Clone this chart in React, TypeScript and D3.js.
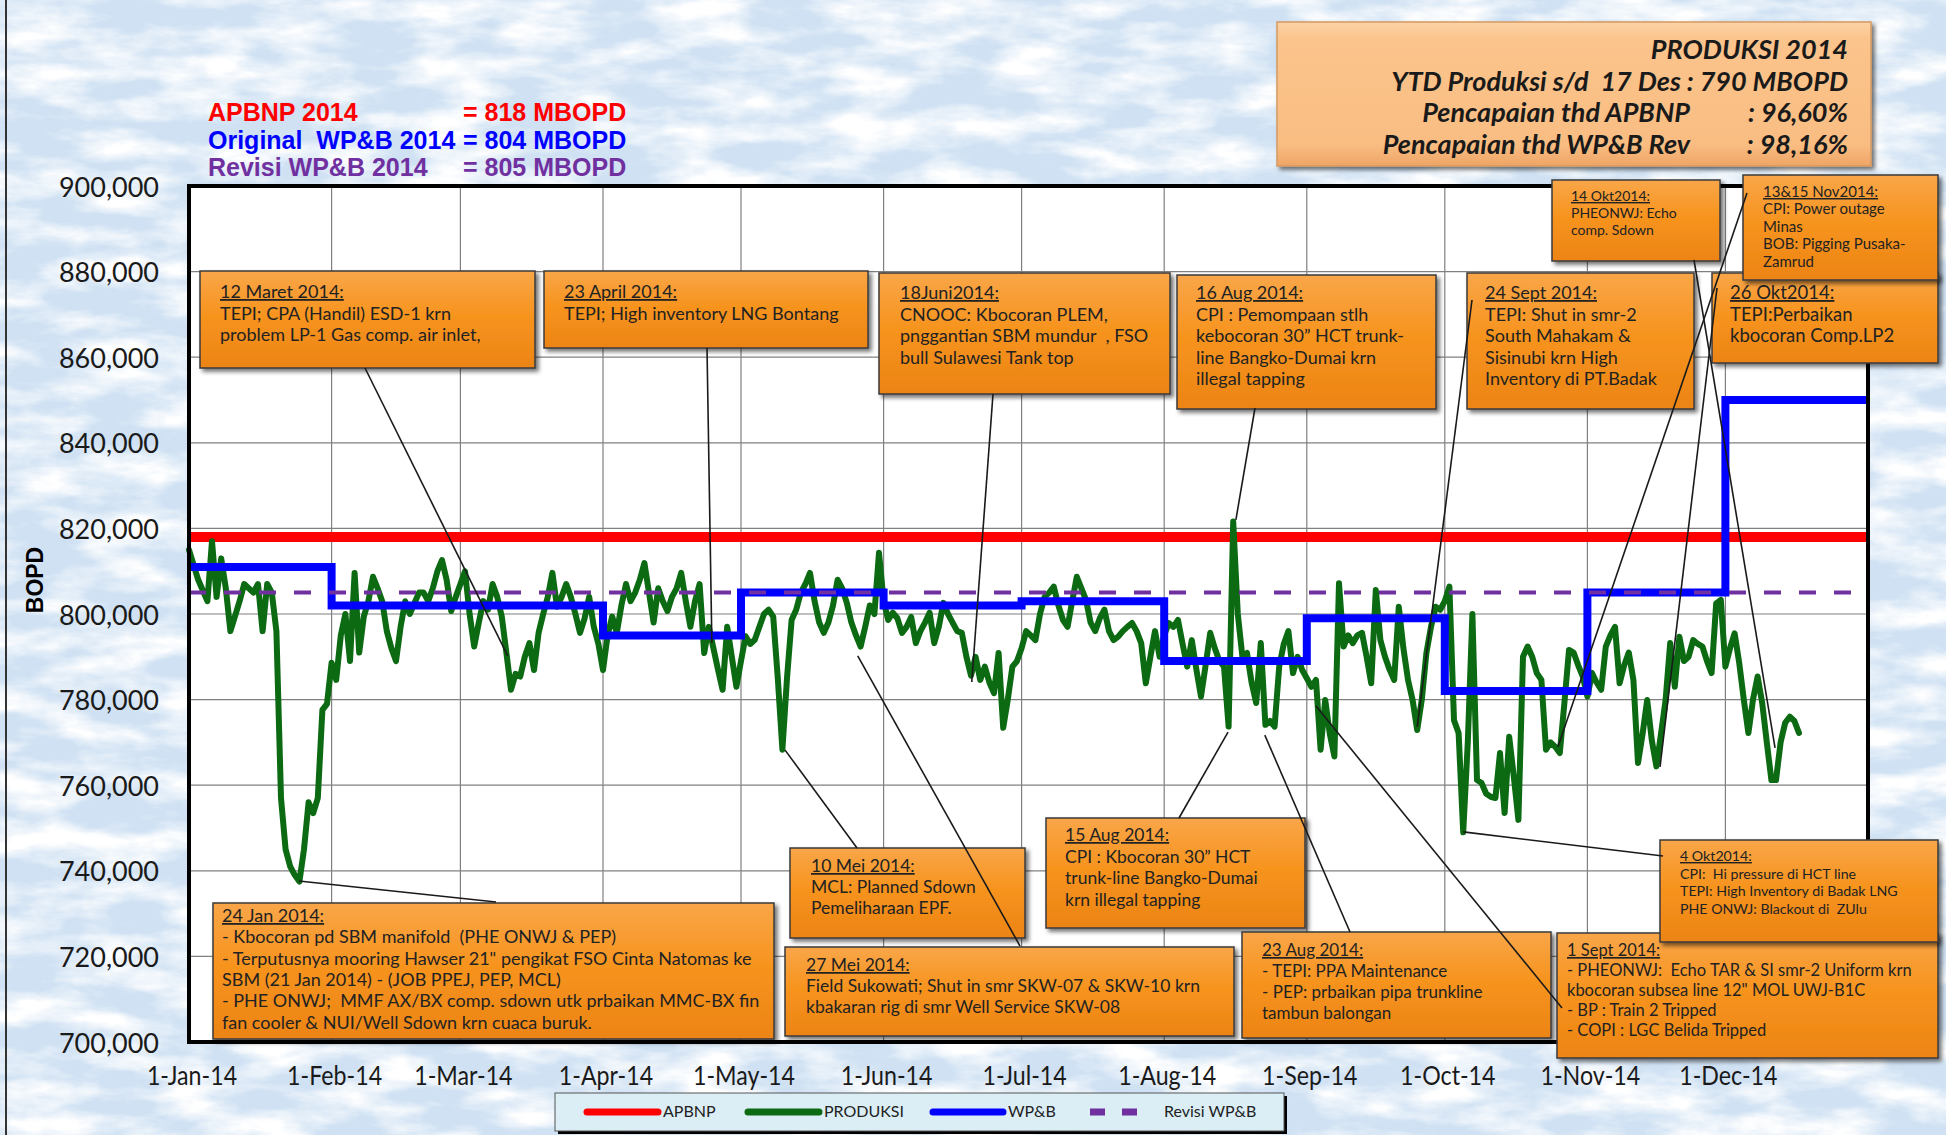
import React from "react";
import * as d3 from "d3";

const W = 1946;
const H = 1135;
const PL = 189, PR = 1868, PT = 186, PB = 1042;

const START = new Date(2014, 0, 1);
const END = new Date(2015, 0, 1);

const yTickValues = [700000, 720000, 740000, 760000, 780000, 800000, 820000, 840000, 860000, 880000, 900000];
const xTickMonths = [0, 1, 2, 3, 4, 5, 6, 7, 8, 9, 10, 11];

const apbnpValue = 818000;
const revisiValue = 805000;

const wpbMonth = [0, 1, 3, 4, 5, 6, 7, 8, 9, 10, 11];
const wpbValue = [811000, 802000, 795000, 805000, 802000, 803000, 789000, 799000, 782000, 805000, 850000];

// PRODUKSI: day offset from 1-Jan-14, value in thousand BOPD
const prodDay = [
  0, 2, 4, 5, 6, 7, 8, 9, 11, 12, 14, 15, 16, 17, 18, 19, 20, 21, 22, 23, 24, 25, 26, 27, 28, 29, 30, 31, 32, 33, 34, 35, 36, 37, 38, 39,
  40, 41, 42, 43, 44, 45, 46, 47, 48, 49, 50, 51, 52, 53, 54, 55, 56, 57, 58, 59, 60, 61, 62, 63, 64, 65, 66, 67, 68, 69, 70, 71, 72, 73, 74, 75, 76, 77, 78, 79,
  80, 81, 82, 83, 84, 85, 86, 87, 88, 89, 90, 91, 92, 93, 94, 95, 96, 97, 98, 99, 100, 101, 102, 103, 104, 105, 106, 107, 108, 109, 110, 111, 112, 113, 114, 115, 116, 117, 118, 119,
  120, 121, 122, 123, 124, 125, 126, 127, 128, 129, 130, 131, 132, 133, 134, 135, 136, 137, 138, 139, 140, 141, 142, 143, 144, 145, 146, 147, 148, 149, 150, 151, 152, 153, 154, 155, 156, 157, 158, 159,
  160, 161, 162, 163, 164, 165, 166, 167, 168, 169, 170, 171, 172, 173, 174, 175, 176, 177, 178, 179, 180, 181, 182, 183, 184, 185, 186, 187, 188, 189, 190, 191, 192, 193, 194, 195, 196, 197, 198, 199,
  200, 201, 202, 203, 204, 205, 206, 207, 208, 209, 210, 211, 212, 213, 214, 215, 216, 217, 218, 219, 220, 221, 222, 223, 224, 225, 226, 227, 228, 229, 230, 231, 232, 233, 234, 235, 236, 237, 238, 239,
  240, 241, 242, 243, 244, 245, 246, 247, 248, 249, 250, 251, 252, 253, 254, 255, 256, 257, 258, 259, 260, 261, 262, 263, 264, 265, 266, 267, 268, 269, 270, 271, 272, 273, 274, 275, 276, 277, 278, 279,
  280, 281, 282, 283, 284, 285, 286, 287, 288, 289, 290, 291, 292, 293, 294, 295, 296, 297, 298, 299, 300, 301, 302, 303, 304, 305, 306, 307, 308, 309, 310, 311, 312, 313, 314, 315, 316, 317, 318, 319,
  320, 321, 322, 323, 324, 325, 326, 327, 328, 329, 330, 331, 332, 333, 334, 335, 336, 337, 338, 339, 340, 341, 342, 343, 344, 345, 346, 347, 348, 349, 350,
];
const prodK = [
  815, 808, 803, 817, 804, 813, 806, 796, 803, 807, 805, 807, 796, 807, 805, 796, 757, 745, 741, 739, 737.5, 745, 756, 753.5, 757, 777.6, 779, 788.6, 784.6, 795, 800, 789, 809.6, 791, 799.4, 803,
  808.7, 806, 803, 796, 792, 789, 797, 803, 800, 802.5, 805, 805, 803, 806, 810, 812.6, 808, 800.7, 804, 807, 810, 800, 792.4, 798, 803, 801, 807, 804, 799.4, 790.9, 782.3, 786, 785.4, 790, 793.2, 786.9, 795.6, 800, 804, 809.6,
  801.7, 804, 807, 804, 800, 795.6, 799, 804, 797, 793, 786.9, 795, 799.4, 795.6, 802, 807, 803, 805, 808, 811.9, 805, 798, 806, 803, 800.7, 804, 806, 809.6, 803, 797, 803, 807, 790.9, 797, 792, 787, 782.3, 797, 790, 783,
  789, 794.8, 793, 794, 797, 800, 801, 799.4, 785, 768.3, 785, 798.6, 801, 805, 807, 809.6, 803, 798, 795.6, 798, 802, 808, 806, 802.6, 798, 795, 792.4, 797, 802, 800, 814.3, 803, 798.6, 800.3, 799, 795.6, 797, 799.3, 793.2, 796,
  798, 800.3, 793.2, 797, 802.6, 800, 798, 796, 795.6, 790, 785.6, 790, 784.6, 787.7, 784, 781.5, 790.9, 773.4, 780, 787.7, 789, 792, 796, 795, 793.9, 800, 804, 805, 806.4, 802, 798.6, 797, 803, 808.7, 806, 803.3, 798, 796, 799, 801,
  796, 793.9, 794.7, 796, 797, 797.9, 796, 793.2, 783.8, 790, 796, 790, 795, 797.9, 797, 798.6, 793, 787.7, 793.9, 787, 780.7, 788, 795.6, 792, 789, 787.7, 773.7, 821.6, 800, 790, 790.9, 784, 779.2, 793.2, 774.1, 775, 773.7, 787.7, 793, 796,
  786.2, 790, 786.9, 785, 783, 784.6, 768.3, 779.9, 772, 766.7, 807.2, 792.4, 795, 793.2, 795, 795.6, 790, 783.8, 805.6, 793.9, 790, 787, 784.6, 801.7, 792, 784.6, 779.9, 772.9, 780, 790.9, 797, 801.7, 801, 803, 806.4, 775.2, 772.2, 749, 770, 800,
  761.2, 760.5, 758, 757.3, 757, 767.5, 753.5, 771.3, 762, 751.9, 790, 792.4, 790, 786.2, 784.6, 768.3, 770, 769, 767.5, 779.2, 791.6, 791, 788, 785.4, 780.7, 786.2, 784, 782.3, 792.4, 795, 797, 783.8, 788, 791, 784.6, 765.2, 772, 779.9, 770.5, 764.4,
  772, 779.9, 793.2, 783, 794.7, 789, 790, 793.9, 793, 792.4, 789, 786.2, 802.5, 803.3, 787.7, 792, 795.5, 788.6, 780, 772.2, 780, 785.4, 779.2, 770, 761.2, 761.2, 770, 774.6, 776, 775, 772.2,
];

const legendTop = [
  { label: "APBNP 2014", value: "= 818 MBOPD", color: "#ff0000" },
  { label: "Original  WP&B 2014", value: "= 804 MBOPD", color: "#0000ff" },
  { label: "Revisi WP&B 2014", value: "= 805 MBOPD", color: "#7030a0" },
];

const summaryRows = [
  { label: "PRODUKSI 2014", value: "" },
  { label: "YTD Produksi s/d  17 Des : 790 MBOPD", value: "" },
  { label: "Pencapaian thd APBNP", value: ": 96,60%" },
  { label: "Pencapaian thd WP&B Rev", value: ": 98,16%" },
];

// annotation boxes (layout)
const boxes = [
  { x: 200, y: 271, w: 335, h: 97, fs: 18, lh: 21.5, tx: 220, ty: 298, head: "12 Maret 2014:", lines: ["TEPI; CPA (Handil) ESD-1 krn", "problem LP-1 Gas comp. air inlet,"] },
  { x: 544, y: 271, w: 324, h: 77, fs: 18, lh: 21.5, tx: 564, ty: 298, head: "23 April 2014:", lines: ["TEPI; High inventory LNG Bontang"] },
  { x: 879, y: 273, w: 291, h: 121, fs: 18, lh: 21.5, tx: 900, ty: 299, head: "18Juni2014:", lines: ["CNOOC: Kbocoran PLEM,", "pnggantian SBM mundur  , FSO", "bull Sulawesi Tank top"] },
  { x: 1177, y: 275, w: 259, h: 134, fs: 18, lh: 21.5, tx: 1196, ty: 299, head: "16 Aug 2014:", lines: ["CPI : Pemompaan stlh", "kebocoran 30\u201d HCT trunk-", "line Bangko-Dumai krn", "illegal tapping"] },
  { x: 1467, y: 273, w: 227, h: 136, fs: 18, lh: 21.5, tx: 1485, ty: 299, head: "24 Sept 2014:", lines: ["TEPI: Shut in smr-2", "South Mahakam &", "Sisinubi krn High", "Inventory di PT.Badak"] },
  { x: 1552, y: 180, w: 168, h: 81, fs: 14, lh: 17, tx: 1571, ty: 201, head: "14 Okt2014:", lines: ["PHEONWJ: Echo", "comp. Sdown"] },
  { x: 1712, y: 273, w: 226, h: 90, fs: 18.5, lh: 21.5, tx: 1730, ty: 299, head: "26 Okt2014:", lines: ["TEPI:Perbaikan", "kbocoran Comp.LP2"] },
  { x: 1743, y: 175, w: 195, h: 105, fs: 15, lh: 17.4, tx: 1763, ty: 197, head: "13&15 Nov2014:", lines: ["CPI: Power outage", "Minas", "BOB: Pigging Pusaka-", "Zamrud"] },
  { x: 213, y: 903, w: 561, h: 136, fs: 18, lh: 21.3, tx: 222, ty: 922, head: "24 Jan 2014:", lines: ["- Kbocoran pd SBM manifold  (PHE ONWJ & PEP)", "- Terputusnya mooring Hawser 21\" pengikat FSO Cinta Natomas ke", "SBM (21 Jan 2014) - (JOB PPEJ, PEP, MCL)", "- PHE ONWJ;  MMF AX/BX comp. sdown utk prbaikan MMC-BX fin", "fan cooler & NUI/Well Sdown krn cuaca buruk."] },
  { x: 790, y: 848, w: 235, h: 90, fs: 17.5, lh: 21, tx: 811, ty: 872, head: "10 Mei 2014:", lines: ["MCL: Planned Sdown", "Pemeliharaan EPF."] },
  { x: 785, y: 947, w: 449, h: 89, fs: 17.5, lh: 21, tx: 806, ty: 971, head: "27 Mei 2014:", lines: ["Field Sukowati; Shut in smr SKW-07 & SKW-10 krn", "kbakaran rig di smr Well Service SKW-08"] },
  { x: 1046, y: 818, w: 259, h: 110, fs: 17.5, lh: 21.5, tx: 1065, ty: 841, head: "15 Aug 2014:", lines: ["CPI : Kbocoran 30\u201d HCT", "trunk-line Bangko-Dumai", "krn illegal tapping"] },
  { x: 1242, y: 932, w: 309, h: 106, fs: 17, lh: 21, tx: 1262, ty: 956, head: "23 Aug 2014:", lines: ["- TEPI: PPA Maintenance", "- PEP: prbaikan pipa trunkline", "tambun balongan"] },
  { x: 1557, y: 933, w: 381, h: 125, fs: 16.5, lh: 20, tx: 1567, ty: 956, head: "1 Sept 2014:", lines: ["- PHEONWJ:  Echo TAR & SI smr-2 Uniform krn", "kbocoran subsea line 12\" MOL UWJ-B1C", "- BP : Train 2 Tripped", "- COPI : LGC Belida Tripped"] },
  { x: 1660, y: 840, w: 278, h: 102, fs: 14.2, lh: 17.5, tx: 1680, ty: 861, head: "4 Okt2014:", lines: ["CPI:  Hi pressure di HCT line", "TEPI: High Inventory di Badak LNG", "PHE ONWJ: Blackout di  ZUlu"] },
];

// leader lines: box end (px) -> data target [day, value]
const links = [
  { from: [496, 902], day: 23.9, value: 737600 },
  { from: [365, 368], day: 69.3, value: 790200 },
  { from: [707, 348], day: 113.7, value: 793200 },
  { from: [857, 848], day: 129.6, value: 768200 },
  { from: [1020, 946], day: 145.4, value: 790200 },
  { from: [993, 394], day: 170.2, value: 784100 },
  { from: [1179, 818], day: 225.9, value: 772400 },
  { from: [1255, 408], day: 227.6, value: 822000 },
  { from: [1350, 932], day: 233.9, value: 771700 },
  { from: [1562, 1008], day: 245, value: 778500 },
  { from: [1472, 300], day: 267, value: 773600 },
  { from: [1663, 856], day: 277, value: 749100 },
  { from: [1694, 260], day: 344.8, value: 768700 },
  { from: [1747, 193], day: 297.6, value: 768900 },
  { from: [1717, 288], day: 319.8, value: 764300 },
];

const legendBottom = [
  { label: "APBNP", color: "#ff0000", dash: "", x1: 587, x2: 658, tx: 663 },
  { label: "PRODUKSI", color: "#0b6a12", dash: "", x1: 748, x2: 819, tx: 824 },
  { label: "WP&B", color: "#0000ff", dash: "", x1: 933, x2: 1003, tx: 1008 },
  { label: "Revisi WP&B", color: "#7030a0", dash: "15 17", x1: 1090, x2: 1139, tx: 1164 },
];

export default function App() {
  const x = d3.scaleTime().domain([START, END]).range([PL, PR]);
  const y = d3.scaleLinear().domain([700000, 900000]).range([PB, PT]);
  const fmt = d3.format(",");
  const xfmt = d3.timeFormat("%-d-%b-%y");

  const prodPts: [Date, number][] = prodDay.map((d, i) => [d3.timeDay.offset(START, d), prodK[i] * 1000]);
  const lin = d3.line<[Date, number]>().x((d) => x(d[0])).y((d) => y(d[1]));
  const prodPath = lin(prodPts) || "";

  const wpbPts: [Date, number][] = wpbMonth.map((m, i) => [new Date(2014, m, 1), wpbValue[i]]);
  wpbPts.push([END, wpbValue[wpbValue.length - 1]]);
  const stepLine = d3.line<[Date, number]>().x((d) => x(d[0])).y((d) => y(d[1])).curve(d3.curveStepAfter);
  const wpbPath = stepLine(wpbPts) || "";

  const xTicks = xTickMonths.map((m) => new Date(2014, m, 1));
  const pre = { whiteSpace: "pre" as const };

  return (
    <svg width={W} height={H} style={{ position: "absolute", left: 0, top: 0, display: "block" }} xmlns="http://www.w3.org/2000/svg">
      <defs>
        <filter id="tex" x="0" y="0" width={W} height={H} filterUnits="userSpaceOnUse">
          <feTurbulence type="fractalNoise" baseFrequency="0.012 0.035" numOctaves="5" seed="23" result="n" />
          <feColorMatrix in="n" type="matrix" values="0 0 0 0 1  0 0 0 0 1  0 0 0 0 1  2.6 0 0 0 -0.95" />
        </filter>
        <filter id="shadow" x="-10%" y="-10%" width="130%" height="140%">
          <feDropShadow dx="3" dy="3" stdDeviation="2" floodColor="#000" floodOpacity="0.55" />
        </filter>
        <linearGradient id="boxGrad" x1="0" y1="0" x2="0" y2="1">
          <stop offset="0" stopColor="#f9a649" />
          <stop offset="0.45" stopColor="#f7941f" />
          <stop offset="1" stopColor="#ec8414" />
        </linearGradient>
        <linearGradient id="sumGrad" x1="0" y1="0" x2="0" y2="1">
          <stop offset="0" stopColor="#fcd3a6" />
          <stop offset="0.12" stopColor="#fbc48c" />
          <stop offset="0.85" stopColor="#f9bd82" />
          <stop offset="1" stopColor="#eea565" />
        </linearGradient>
      </defs>

      {/* background */}
      <rect x={0} y={0} width={W} height={H} fill="#cfe1f3" />
      <rect x={0} y={0} width={W} height={H} filter="url(#tex)" />
      <line x1={6} y1={0} x2={6} y2={H} stroke="#333" strokeWidth={2} />

      {/* top-left legend text */}
      {legendTop.map((d, i) => (
        <g key={i} fontFamily="Liberation Sans, Arial, sans-serif" fontWeight="bold" fontSize={25} fill={d.color}>
          <text x={208} y={121 + i * 27.5} xmlSpace="preserve" style={pre}>{d.label}</text>
          <text x={463} y={121 + i * 27.5}>{d.value}</text>
        </g>
      ))}

      {/* summary box */}
      <rect x={1277} y={22} width={594} height={144} fill="url(#sumGrad)" stroke="#d59a62" strokeWidth={1.5} filter="url(#shadow)" />
      <g fontFamily="Lato, sans-serif" fontWeight="bold" fontStyle="italic" fontSize={27} fill="#1a1a1a">
        {summaryRows.map((r, i) =>
          r.value ? (
            <g key={i}>
              <text x={1690} y={59 + i * 31.5} textAnchor="end" xmlSpace="preserve" style={pre}>{r.label}</text>
              <text x={1848} y={59 + i * 31.5} textAnchor="end">{r.value}</text>
            </g>
          ) : (
            <text key={i} x={1848} y={59 + i * 31.5} textAnchor="end" xmlSpace="preserve" style={pre}>{r.label}</text>
          )
        )}
      </g>

      {/* plot area */}
      <rect x={PL} y={PT} width={PR - PL} height={PB - PT} fill="#ffffff" />
      {yTickValues.slice(1, -1).map((v) => (
        <line key={v} x1={PL} x2={PR} y1={y(v)} y2={y(v)} stroke="#808080" strokeWidth={1.2} />
      ))}
      {xTicks.slice(1).map((d, i) => (
        <line key={i} x1={x(d)} x2={x(d)} y1={PT} y2={PB} stroke="#808080" strokeWidth={1.2} />
      ))}

      {/* series */}
      <line x1={PL} x2={PR} y1={y(apbnpValue)} y2={y(apbnpValue)} stroke="#ff0000" strokeWidth={10} />
      <path d={prodPath} fill="none" stroke="#0b6a12" strokeWidth={6} strokeLinejoin="round" strokeLinecap="round" />
      <path d={wpbPath} fill="none" stroke="#0000ff" strokeWidth={8} />
      <line x1={PL} x2={PR} y1={y(revisiValue)} y2={y(revisiValue)} stroke="#7030a0" strokeWidth={4} strokeDasharray="17 18" />

      {/* plot border */}
      <rect x={PL} y={PT} width={PR - PL} height={PB - PT} fill="none" stroke="#000" strokeWidth={4} />

      {/* axes labels */}
      <g fontFamily="Lato, sans-serif" fontSize={27} fill="#1a1a1a">
        {yTickValues.map((v) => (
          <text key={v} x={159} y={y(v)} textAnchor="end" dominantBaseline="central">{fmt(v)}</text>
        ))}
      </g>
      <g fontFamily="Lato, sans-serif" fontSize={27} fill="#1a1a1a">
        {xTicks.map((d, i) => (
          <text key={i} transform={`translate(${x(d) + 3},1085) scale(0.86,1)`} textAnchor="middle">{xfmt(d)}</text>
        ))}
      </g>
      <text transform="translate(43,580) rotate(-90)" textAnchor="middle" fontFamily="Liberation Sans, Arial, sans-serif" fontWeight="bold" fontSize={23} fill="#000">BOPD</text>

      {/* annotation boxes */}
      {boxes.map((b, i) => (
        <g key={i}>
          <rect x={b.x} y={b.y} width={b.w} height={b.h} fill="url(#boxGrad)" stroke="#3a3a3a" strokeWidth={1.5} filter="url(#shadow)" />
          <text fontFamily="Lato, sans-serif" fontSize={b.fs} fill="#222" xmlSpace="preserve" style={pre}>
            <tspan x={b.tx} y={b.ty} textDecoration="underline" style={{ textDecoration: "underline" }}>{b.head}</tspan>
            {b.lines.map((l, j) => (
              <tspan key={j} x={b.tx} y={b.ty + (j + 1) * b.lh}>{l}</tspan>
            ))}
          </text>
        </g>
      ))}

      {/* leader lines */}
      {links.map((l, i) => (
        <line key={i} x1={l.from[0]} y1={l.from[1]} x2={x(d3.timeHour.offset(START, l.day * 24))} y2={y(l.value)} stroke="#1a1a1a" strokeWidth={1.6} />
      ))}

      {/* bottom legend */}
      <rect x={558} y={1096} width={729} height={38} fill="#000" />
      <rect x={555} y={1093} width={729} height={38} fill="#dbeef5" stroke="#555" strokeWidth={1} />
      {legendBottom.map((d, i) => (
        <g key={i}>
          <line x1={d.x1} x2={d.x2} y1={1112} y2={1112} stroke={d.color} strokeWidth={7} strokeDasharray={d.dash || undefined} strokeLinecap={d.dash ? "butt" : "round"} />
          <text x={d.tx} y={1117} fontFamily="Lato, sans-serif" fontSize={16} fill="#222">{d.label}</text>
        </g>
      ))}
    </svg>
  );
}
